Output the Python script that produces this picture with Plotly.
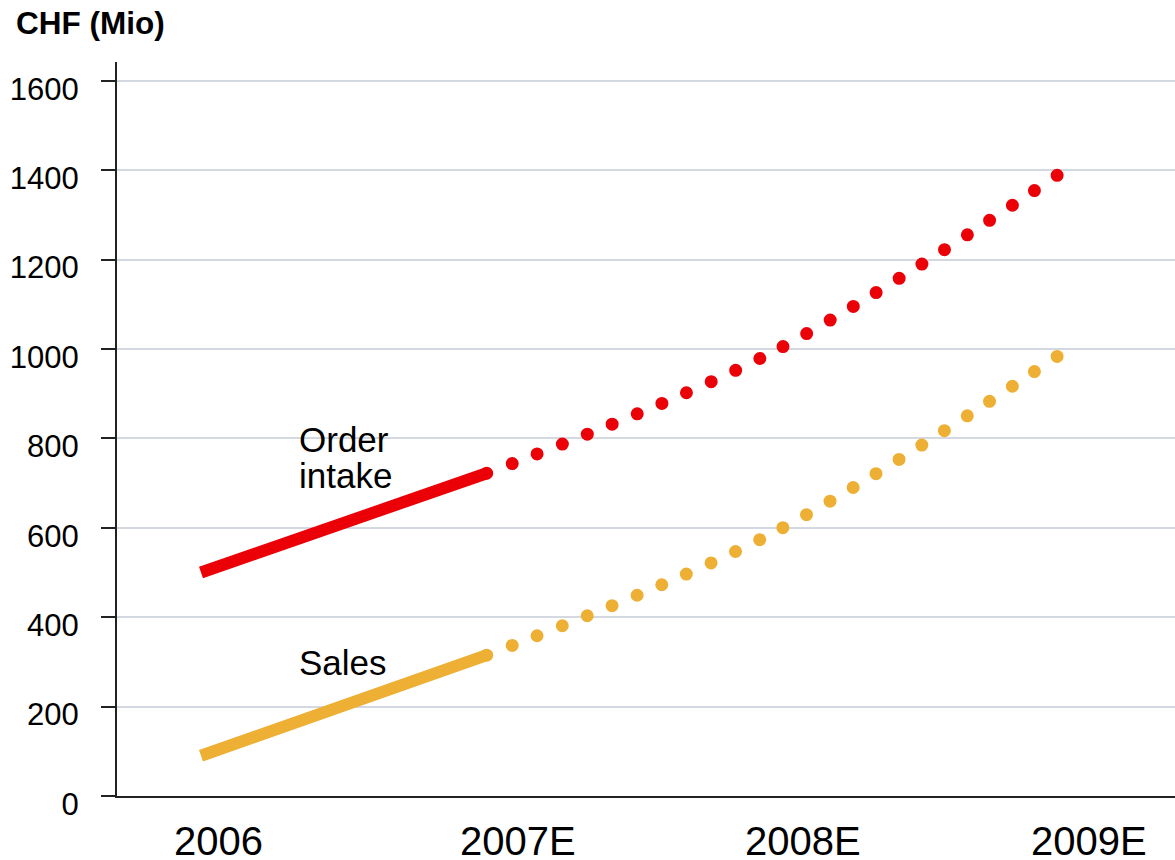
import plotly.graph_objects as go

categories = ["2006", "2007E", "2008E", "2009E"]
order_intake = [500, 722, 993, 1390]
sales = [90, 315, 588, 985]
y_ticks = [0, 200, 400, 600, 800, 1000, 1200, 1400, 1600]

RED = "#EC0008"
ORANGE = "#EDB034"
FONT = "Liberation Sans, Arial, sans-serif"

fig = go.Figure()
# solid actual segments
fig.add_trace(go.Scatter(x=categories[:2], y=order_intake[:2], mode="lines",
                         line=dict(color=RED, width=12), hoverinfo="skip"))
fig.add_trace(go.Scatter(x=categories[:2], y=sales[:2], mode="lines",
                         line=dict(color=ORANGE, width=12), hoverinfo="skip"))
# dotted estimate segments
fig.add_trace(go.Scatter(x=categories[1:], y=order_intake[1:], mode="lines",
                         line=dict(color=RED, width=13, dash="0px,26.5px", shape="spline"),
                         hoverinfo="skip"))
fig.add_trace(go.Scatter(x=categories[1:], y=sales[1:], mode="lines",
                         line=dict(color=ORANGE, width=13, dash="0px,26.5px", shape="spline"),
                         hoverinfo="skip"))

annotations = []
for i, c in enumerate(categories):
    annotations.append(dict(x=i, xref="x", xanchor="left", xshift=-29,
                            y=0, yref="paper", yanchor="middle", yshift=-45,
                            text=c, showarrow=False,
                            font=dict(family=FONT, size=40, color="#000")))
annotations += [
    dict(x=0.335, xref="x", y=797, yref="y", xanchor="left", yanchor="middle",
         text="Order", showarrow=False, font=dict(family=FONT, size=35, color="#000")),
    dict(x=0.335, xref="x", y=718, yref="y", xanchor="left", yanchor="middle",
         text="intake", showarrow=False, font=dict(family=FONT, size=35, color="#000")),
    dict(x=0.335, xref="x", y=298, yref="y", xanchor="left", yanchor="middle",
         text="Sales", showarrow=False, font=dict(family=FONT, size=35, color="#000")),
]

fig.update_layout(
    width=1175, height=860,
    margin=dict(l=117, r=0, t=62, b=64),
    paper_bgcolor="white", plot_bgcolor="white",
    showlegend=False,
    title=dict(text="<b>CHF (Mio)</b>", x=16 / 1175, xref="container", xanchor="left",
               y=1 - 23 / 860, yref="container", yanchor="middle",
               font=dict(family=FONT, size=31.5, color="#000")),
    annotations=annotations,
    xaxis=dict(type="category", categoryorder="array", categoryarray=categories,
               range=[-0.294, 3.409], showticklabels=False, ticks="",
               showgrid=False, zeroline=False, showline=True,
               linecolor="#222", linewidth=2),
    yaxis=dict(range=[0, 1642], tickvals=y_ticks, ticks="outside", ticklen=14,
               tickwidth=2, tickcolor="#222",
               showline=True, linecolor="#222", linewidth=2,
               showgrid=True, gridcolor="#D3D8E1", gridwidth=2, zeroline=False,
               ticklabelstandoff=16, ticklabelshift=8,
               tickfont=dict(family=FONT, size=31, color="#000")),
)

# round dots, spaced so that the last dot lands on the end of each estimate line
post = """
document.body.style.margin='0';
var s=document.createElement('style');
s.innerHTML='.scatterlayer .trace:nth-child(n+3) .js-line{stroke-linecap:round}';
document.head.appendChild(s);
function fixDots(){
  document.querySelectorAll('.scatterlayer .trace:nth-child(n+3) .js-line').forEach(function(p){
    var L=p.getTotalLength();
    if(L>0){p.style.strokeDasharray='0px,'+(L/24-0.05)+'px';}
  });
}
var gd=document.getElementById('{plot_id}');
if(gd && gd.on){gd.on('plotly_afterplot', fixDots);}
fixDots();
setTimeout(fixDots, 50);
setTimeout(fixDots, 300);
"""
fig.write_html("out.html", post_script=post, config={"displayModeBar": False})
